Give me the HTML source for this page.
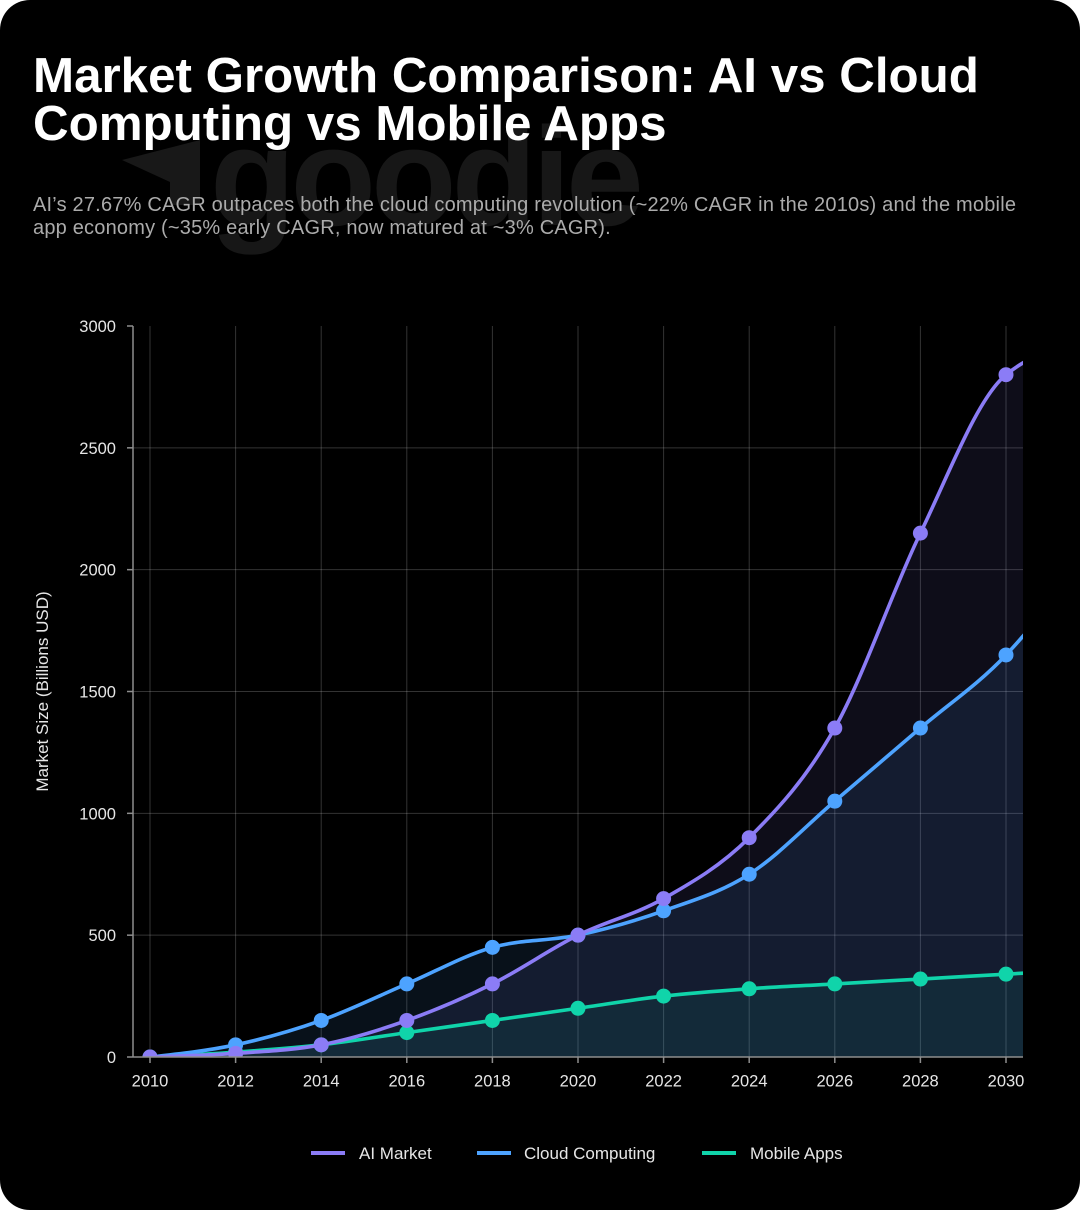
<!DOCTYPE html>
<html>
<head>
<meta charset="utf-8">
<style>
  html,body{margin:0;padding:0;background:#ffffff;}
  svg{display:block;}
  text{font-family:"Liberation Sans", Arial, sans-serif;}
</style>
</head>
<body>
<svg width="1080" height="1210" viewBox="0 0 1080 1210" xmlns="http://www.w3.org/2000/svg">
  <defs>
    <clipPath id="plot">
      <rect x="133" y="326" width="890" height="731"/>
    </clipPath>
  </defs>
  <rect x="0" y="0" width="1080" height="1210" rx="30" ry="30" fill="#000000"/>

  <!-- watermark -->
  <polygon points="122,160 200,140 200,205 170,205 170,182" fill="#181818"/>
  <text x="210" y="225" font-size="140" font-weight="bold" letter-spacing="-5" fill="#171717">goodie</text>

  <!-- title -->
  <text x="33" y="92" font-size="49.3" font-weight="bold" fill="#ffffff">Market Growth Comparison: AI vs Cloud</text>
  <text x="33" y="140" font-size="49.3" font-weight="bold" fill="#ffffff">Computing vs Mobile Apps</text>

  <!-- subtitle -->
  <text x="33" y="211" font-size="20" fill="#ababab" letter-spacing="0.2">AI’s 27.67% CAGR outpaces both the cloud computing revolution (~22% CAGR in the 2010s) and the mobile</text>
  <text x="33" y="234" font-size="20" fill="#ababab" letter-spacing="0.2">app economy (~35% early CAGR, now matured at ~3% CAGR).</text>

  <!-- grid -->
  <g stroke="rgba(255,255,255,0.2)" stroke-width="1">
    <line x1="150" y1="326" x2="150" y2="1057"/>
    <line x1="235.6" y1="326" x2="235.6" y2="1057"/>
    <line x1="321.2" y1="326" x2="321.2" y2="1057"/>
    <line x1="406.8" y1="326" x2="406.8" y2="1057"/>
    <line x1="492.4" y1="326" x2="492.4" y2="1057"/>
    <line x1="578" y1="326" x2="578" y2="1057"/>
    <line x1="663.6" y1="326" x2="663.6" y2="1057"/>
    <line x1="749.2" y1="326" x2="749.2" y2="1057"/>
    <line x1="834.8" y1="326" x2="834.8" y2="1057"/>
    <line x1="920.4" y1="326" x2="920.4" y2="1057"/>
    <line x1="1006" y1="326" x2="1006" y2="1057"/>
    <line x1="133" y1="935.17" x2="1023" y2="935.17"/>
    <line x1="133" y1="813.33" x2="1023" y2="813.33"/>
    <line x1="133" y1="691.5" x2="1023" y2="691.5"/>
    <line x1="133" y1="569.67" x2="1023" y2="569.67"/>
    <line x1="133" y1="447.83" x2="1023" y2="447.83"/>
  </g>

  <g clip-path="url(#plot)">
    <!-- fills -->
    <path fill="#8b7cf6" fill-opacity="0.1" d="M150,1057 C178.53,1056.19 207.07,1055.38 235.6,1053.35 C264.13,1051.32 292.67,1050.30 321.2,1044.82 C349.73,1039.33 378.27,1030.60 406.8,1020.45 C435.33,1010.30 463.87,998.11 492.4,983.90 C520.93,969.69 549.47,949.38 578,935.17 C606.53,920.95 635.07,914.86 663.6,898.62 C692.13,882.37 720.67,866.13 749.2,837.70 C777.73,809.27 806.27,778.81 834.8,728.05 C863.33,677.29 891.87,592.00 920.4,533.12 C948.93,474.23 977.47,397.89 1006,374.73 C1034.53,351.58 1063.07,345.81 1091.6,340.13 L1091.6,1057 Z"/>
    <path fill="#4da3ff" fill-opacity="0.1" d="M150,1057 C178.53,1053.95 207.07,1050.91 235.6,1044.82 C264.13,1038.73 292.67,1030.60 321.2,1020.45 C349.73,1010.30 378.27,996.08 406.8,983.90 C435.33,971.72 463.87,955.47 492.4,947.35 C520.93,939.23 549.47,941.26 578,935.17 C606.53,929.08 635.07,920.95 663.6,910.80 C692.13,900.65 720.67,892.53 749.2,874.25 C777.73,855.98 806.27,825.52 834.8,801.15 C863.33,776.78 891.87,752.42 920.4,728.05 C948.93,703.68 977.47,685.00 1006,654.95 C1034.53,624.89 1063.07,586.31 1091.6,547.74 L1091.6,1057 Z"/>
    <path fill="#10d4aa" fill-opacity="0.08" d="M150,1057 C178.53,1055.58 207.07,1054.16 235.6,1052.13 C264.13,1050.10 292.67,1048.06 321.2,1044.82 C349.73,1041.57 378.27,1036.69 406.8,1032.63 C435.33,1028.57 463.87,1024.51 492.4,1020.45 C520.93,1016.39 549.47,1012.33 578,1008.27 C606.53,1004.21 635.07,999.33 663.6,996.08 C692.13,992.83 720.67,990.80 749.2,988.77 C777.73,986.74 806.27,985.53 834.8,983.90 C863.33,982.27 891.87,980.65 920.4,979.03 C948.93,977.40 977.47,975.78 1006,974.15 C1034.53,972.53 1063.07,970.91 1091.6,969.28 L1091.6,1057 Z"/>

    <!-- mobile -->
    <path fill="none" stroke="#10d4aa" stroke-width="3.6" d="M150,1057 C178.53,1055.58 207.07,1054.16 235.6,1052.13 C264.13,1050.10 292.67,1048.06 321.2,1044.82 C349.73,1041.57 378.27,1036.69 406.8,1032.63 C435.33,1028.57 463.87,1024.51 492.4,1020.45 C520.93,1016.39 549.47,1012.33 578,1008.27 C606.53,1004.21 635.07,999.33 663.6,996.08 C692.13,992.83 720.67,990.80 749.2,988.77 C777.73,986.74 806.27,985.53 834.8,983.90 C863.33,982.27 891.87,980.65 920.4,979.03 C948.93,977.40 977.47,975.78 1006,974.15 C1034.53,972.53 1063.07,970.91 1091.6,969.28"/>
    <g fill="#10d4aa">
      <circle cx="150" cy="1057" r="7.5"/>
      <circle cx="235.6" cy="1052.13" r="7.5"/>
      <circle cx="321.2" cy="1044.82" r="7.5"/>
      <circle cx="406.8" cy="1032.63" r="7.5"/>
      <circle cx="492.4" cy="1020.45" r="7.5"/>
      <circle cx="578" cy="1008.27" r="7.5"/>
      <circle cx="663.6" cy="996.08" r="7.5"/>
      <circle cx="749.2" cy="988.77" r="7.5"/>
      <circle cx="834.8" cy="983.90" r="7.5"/>
      <circle cx="920.4" cy="979.03" r="7.5"/>
      <circle cx="1006" cy="974.15" r="7.5"/>
    </g>

    <!-- cloud -->
    <path fill="none" stroke="#4da3ff" stroke-width="3.6" d="M150,1057 C178.53,1053.95 207.07,1050.91 235.6,1044.82 C264.13,1038.73 292.67,1030.60 321.2,1020.45 C349.73,1010.30 378.27,996.08 406.8,983.90 C435.33,971.72 463.87,955.47 492.4,947.35 C520.93,939.23 549.47,941.26 578,935.17 C606.53,929.08 635.07,920.95 663.6,910.80 C692.13,900.65 720.67,892.53 749.2,874.25 C777.73,855.98 806.27,825.52 834.8,801.15 C863.33,776.78 891.87,752.42 920.4,728.05 C948.93,703.68 977.47,685.00 1006,654.95 C1034.53,624.89 1063.07,586.31 1091.6,547.74"/>
    <g fill="#4da3ff">
      <circle cx="150" cy="1057" r="7.5"/>
      <circle cx="235.6" cy="1044.82" r="7.5"/>
      <circle cx="321.2" cy="1020.45" r="7.5"/>
      <circle cx="406.8" cy="983.90" r="7.5"/>
      <circle cx="492.4" cy="947.35" r="7.5"/>
      <circle cx="578" cy="935.17" r="7.5"/>
      <circle cx="663.6" cy="910.80" r="7.5"/>
      <circle cx="749.2" cy="874.25" r="7.5"/>
      <circle cx="834.8" cy="801.15" r="7.5"/>
      <circle cx="920.4" cy="728.05" r="7.5"/>
      <circle cx="1006" cy="654.95" r="7.5"/>
    </g>

    <!-- AI -->
    <path fill="none" stroke="#8b7cf6" stroke-width="3.6" d="M150,1057 C178.53,1056.19 207.07,1055.38 235.6,1053.35 C264.13,1051.32 292.67,1050.30 321.2,1044.82 C349.73,1039.33 378.27,1030.60 406.8,1020.45 C435.33,1010.30 463.87,998.11 492.4,983.90 C520.93,969.69 549.47,949.38 578,935.17 C606.53,920.95 635.07,914.86 663.6,898.62 C692.13,882.37 720.67,866.13 749.2,837.70 C777.73,809.27 806.27,778.81 834.8,728.05 C863.33,677.29 891.87,592.00 920.4,533.12 C948.93,474.23 977.47,397.89 1006,374.73 C1034.53,351.58 1063.07,345.81 1091.6,340.13"/>
    <g fill="#8b7cf6">
      <circle cx="150" cy="1057" r="7.5"/>
      <circle cx="235.6" cy="1053.35" r="7.5"/>
      <circle cx="321.2" cy="1044.82" r="7.5"/>
      <circle cx="406.8" cy="1020.45" r="7.5"/>
      <circle cx="492.4" cy="983.90" r="7.5"/>
      <circle cx="578" cy="935.17" r="7.5"/>
      <circle cx="663.6" cy="898.62" r="7.5"/>
      <circle cx="749.2" cy="837.70" r="7.5"/>
      <circle cx="834.8" cy="728.05" r="7.5"/>
      <circle cx="920.4" cy="533.12" r="7.5"/>
      <circle cx="1006" cy="374.73" r="7.5"/>
    </g>
  </g>

  <!-- axes -->
  <g stroke="#8e8e8e" stroke-width="1.5">
    <line x1="133" y1="326" x2="133" y2="1057"/>
    <line x1="127" y1="1057" x2="1023" y2="1057"/>
    <line x1="127" y1="326" x2="133" y2="326"/>
    <line x1="127" y1="447.83" x2="133" y2="447.83"/>
    <line x1="127" y1="569.67" x2="133" y2="569.67"/>
    <line x1="127" y1="691.5" x2="133" y2="691.5"/>
    <line x1="127" y1="813.33" x2="133" y2="813.33"/>
    <line x1="127" y1="935.17" x2="133" y2="935.17"/>
    <line x1="150" y1="1057" x2="150" y2="1063"/>
    <line x1="235.6" y1="1057" x2="235.6" y2="1063"/>
    <line x1="321.2" y1="1057" x2="321.2" y2="1063"/>
    <line x1="406.8" y1="1057" x2="406.8" y2="1063"/>
    <line x1="492.4" y1="1057" x2="492.4" y2="1063"/>
    <line x1="578" y1="1057" x2="578" y2="1063"/>
    <line x1="663.6" y1="1057" x2="663.6" y2="1063"/>
    <line x1="749.2" y1="1057" x2="749.2" y2="1063"/>
    <line x1="834.8" y1="1057" x2="834.8" y2="1063"/>
    <line x1="920.4" y1="1057" x2="920.4" y2="1063"/>
    <line x1="1006" y1="1057" x2="1006" y2="1063"/>
  </g>

  <!-- y tick labels -->
  <g font-size="16.5" fill="#e6e6e6" text-anchor="end">
    <text x="116" y="332">3000</text>
    <text x="116" y="453.8">2500</text>
    <text x="116" y="575.7">2000</text>
    <text x="116" y="697.5">1500</text>
    <text x="116" y="819.3">1000</text>
    <text x="116" y="941.2">500</text>
    <text x="116" y="1063">0</text>
  </g>

  <!-- x tick labels -->
  <g font-size="16.5" fill="#e6e6e6" text-anchor="middle">
    <text x="150" y="1086.5">2010</text>
    <text x="235.6" y="1086.5">2012</text>
    <text x="321.2" y="1086.5">2014</text>
    <text x="406.8" y="1086.5">2016</text>
    <text x="492.4" y="1086.5">2018</text>
    <text x="578" y="1086.5">2020</text>
    <text x="663.6" y="1086.5">2022</text>
    <text x="749.2" y="1086.5">2024</text>
    <text x="834.8" y="1086.5">2026</text>
    <text x="920.4" y="1086.5">2028</text>
    <text x="1006" y="1086.5">2030</text>
  </g>

  <!-- y axis title -->
  <text x="0" y="0" font-size="17" fill="#e6e6e6" text-anchor="middle" transform="translate(48,691.5) rotate(-90)">Market Size (Billions USD)</text>

  <!-- legend -->
  <g stroke-width="4">
    <line x1="311" y1="1153" x2="345" y2="1153" stroke="#8b7cf6"/>
    <line x1="477" y1="1153" x2="511" y2="1153" stroke="#4da3ff"/>
    <line x1="702" y1="1153" x2="736" y2="1153" stroke="#10d4aa"/>
  </g>
  <g font-size="17" fill="#e6e6e6">
    <text x="359" y="1159">AI Market</text>
    <text x="524" y="1159">Cloud Computing</text>
    <text x="750" y="1159">Mobile Apps</text>
  </g>
</svg>
</body>
</html>
